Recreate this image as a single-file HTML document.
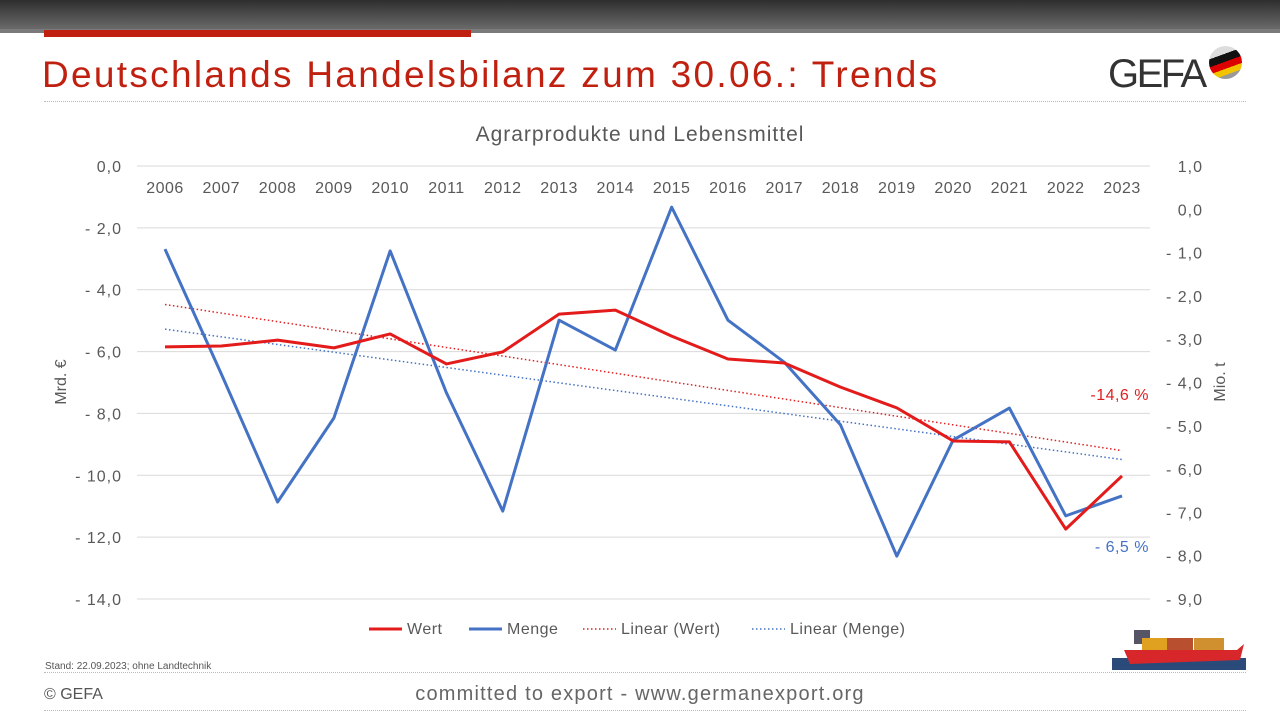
<!DOCTYPE html>
<html><head><meta charset="utf-8"><style>
body{margin:0;width:1280px;height:720px;overflow:hidden;background:#fff;font-family:"Liberation Sans","DejaVu Sans",sans-serif;position:relative}
.abs{position:absolute}
</style></head><body>
<div class="abs" style="left:0;top:0;width:1280px;height:29px;background:linear-gradient(#2e2e2e,#6a6a6a)"></div>
<div class="abs" style="left:0;top:29px;width:1280px;height:4px;background:#7a7a7a"></div>
<div class="abs" style="left:44px;top:30px;width:427px;height:7px;background:#c0200f"></div>
<div class="abs" style="left:42px;top:54px;font-size:37px;letter-spacing:2.3px;color:#c0200f;white-space:nowrap">Deutschlands Handelsbilanz zum 30.06.: Trends</div>
<div class="abs" style="left:1108px;top:52px;font-size:40px;color:#333;letter-spacing:-2.5px">GEFA</div>
<div class="abs" style="left:1209px;top:46px;width:33px;height:33px;border-radius:50%;overflow:hidden;background:linear-gradient(160deg,#ddd 0 30%,#111 30% 48%,#d00 48% 64%,#f2c400 64% 78%,#999 78%)"></div>
<div class="abs" style="left:44px;top:101px;width:1202px;border-top:1px dotted #bbb"></div>
<svg class="abs" style="left:0;top:0" width="1280" height="720" id="chart"></svg>
<div class="abs" style="left:45px;top:661px;font-size:10px;color:#555">Stand: 22.09.2023; ohne Landtechnik</div>
<div class="abs" style="left:44px;top:672px;width:1202px;border-top:1px dotted #bbb"></div>
<div class="abs" style="left:44px;top:686px;font-size:16px;color:#555">© GEFA</div>
<div class="abs" style="left:0;width:1280px;text-align:center;top:683px;font-size:20px;letter-spacing:1.2px;color:#666">committed to export - www.germanexport.org</div>
<div class="abs" style="left:44px;top:710px;width:1202px;border-top:1px dotted #bbb"></div>
<svg class="abs" style="left:1112px;top:618px" width="134" height="54">
<rect x="0" y="40" width="134" height="12" fill="#2a4a7a"/>
<path d="M12 32 L125 32 L132 26 L128 42 L18 46 Z" fill="#d8272b"/>
<rect x="22" y="12" width="16" height="14" fill="#556"/>
<rect x="30" y="20" width="50" height="12" fill="#e0a020"/>
<rect x="55" y="20" width="26" height="12" fill="#b85030"/>
<rect x="82" y="20" width="30" height="12" fill="#d09030"/>
</svg>
<script>
const years=["2006","2007","2008","2009","2010","2011","2012","2013","2014","2015","2016","2017","2018","2019","2020","2021","2022","2023"];
const wert=[-5.85,-5.82,-5.63,-5.88,-5.43,-6.40,-6.01,-4.79,-4.66,-5.50,-6.24,-6.37,-7.15,-7.82,-8.89,-8.92,-11.74,-10.02];
const menge=[-0.92,-3.80,-6.76,-4.82,-0.96,-4.24,-6.97,-2.56,-3.25,0.05,-2.56,-3.53,-4.98,-8.01,-5.33,-4.59,-7.08,-6.62];
const leftTicks=[0,-2,-4,-6,-8,-10,-12,-14];
const rightTicks=[1,0,-1,-2,-3,-4,-5,-6,-7,-8,-9];
const svg=document.getElementById('chart');const NS='http://www.w3.org/2000/svg';
const yTop=166,yBot=599,x0=165,x1=1122;
const X=i=>x0+(x1-x0)*i/(years.length-1);
const YL=v=>yTop+(0-v)/14*(yBot-yTop);
const YR=v=>yTop+(1-v)/10*(yBot-yTop);
function el(t,a,txt){const e=document.createElementNS(NS,t);for(const k in a)e.setAttribute(k,a[k]);if(txt!==undefined)e.textContent=txt;svg.appendChild(e);return e;}
const fmt=v=>(v<0?'- ':'')+Math.abs(v).toFixed(1).replace('.',',');
leftTicks.forEach(v=>{
 const g=el('line',{x1:137,x2:1150,y1:YL(v),y2:YL(v),stroke:'#d9d9d9','stroke-width':1});
 
 const t=el('text',{x:122,y:YL(v)+6,'text-anchor':'end','font-size':16,fill:'#595959','letter-spacing':1},fmt(v));
 
});
rightTicks.forEach(v=>{
 const t=el('text',{x:1203,y:YR(v)+6,'text-anchor':'end','font-size':16,fill:'#595959','letter-spacing':1},fmt(v));
 
});
years.forEach((y,i)=>{
 const t=el('text',{x:X(i),y:193,'text-anchor':'middle','font-size':16,fill:'#595959','letter-spacing':0.5},y);
 
});
let t=el('text',{x:640,y:141,'text-anchor':'middle','font-size':21,fill:'#595959','letter-spacing':1},'Agrarprodukte und Lebensmittel');

t=el('text',{x:0,y:0,transform:'translate(66,382) rotate(-90)','text-anchor':'middle','font-size':16,fill:'#595959'},'Mrd. €');

t=el('text',{x:0,y:0,transform:'translate(1225,382) rotate(-90)','text-anchor':'middle','font-size':16,fill:'#595959'},'Mio. t');

function trend(arr,Y,color,name){
 const n=arr.length;let sx=0,sy=0,sxy=0,sxx=0;arr.forEach((v,i)=>{sx+=i;sy+=v;sxy+=i*v;sxx+=i*i});
 const b=(n*sxy-sx*sy)/(n*sxx-sx*sx),a=(sy-b*sx)/n;
 const l=el('line',{x1:X(0),y1:Y(a),x2:X(n-1),y2:Y(a+b*(n-1)),stroke:color,'stroke-width':1.5,'stroke-dasharray':'1.5,2.5'});
 
}
trend(wert,YL,'#e02020','trend-wert');
trend(menge,YR,'#4472c4','trend-menge');
let p=el('polyline',{points:menge.map((v,i)=>X(i)+','+YR(v)).join(' '),fill:'none',stroke:'#4472c4','stroke-width':3,'stroke-linejoin':'round'});

p=el('polyline',{points:wert.map((v,i)=>X(i)+','+YL(v)).join(' '),fill:'none',stroke:'#e31b1b','stroke-width':3,'stroke-linejoin':'round'});

t=el('text',{x:1149,y:400,'text-anchor':'end','font-size':16,fill:'#e02020','letter-spacing':0.5},'-14,6 %');

t=el('text',{x:1149,y:552,'text-anchor':'end','font-size':16,fill:'#4472c4','letter-spacing':0.5},'- 6,5 %');

const leg=[['Wert','#e31b1b',false,369],['Menge','#4472c4',false,469],['Linear (Wert)','#e02020',true,583],['Linear (Menge)','#4472c4',true,752]];
leg.forEach(([n,c,d,x])=>{
 const l=el('line',{x1:x,x2:x+33,y1:629,y2:629,stroke:c,'stroke-width':d?1.5:3,'stroke-dasharray':d?'1.5,2.5':'none'});
 
 const tt=el('text',{x:x+38,y:634,'font-size':16,fill:'#595959','letter-spacing':0.5},n);
 
});
</script>
</body></html>
